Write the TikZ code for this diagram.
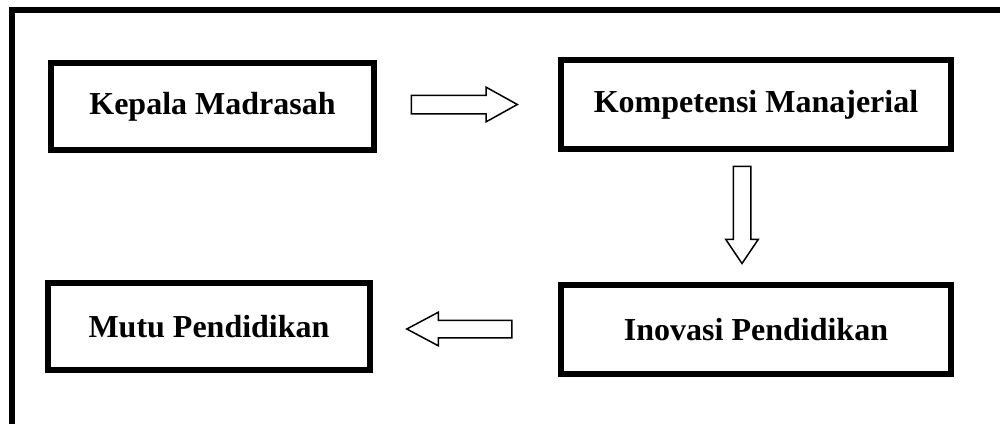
\documentclass[tikz,border=0pt]{standalone}
\usepackage{fontspec}
\setmainfont{Liberation Serif}
\usetikzlibrary{shapes.arrows}
\begin{document}
\begin{tikzpicture}[x=1pt,y=-1pt,
  stagebox/.style={draw, line width=6pt, rectangle, inner sep=0pt,
    font=\fontsize{32}{38}\selectfont\bfseries},
  blockarrow/.style={draw, line width=1.5pt, single arrow,
    single arrow head indent=0pt, anchor=center}
]
\useasboundingbox (0,0) rectangle (1000,423);
% open frame: left and top sides only
\draw[line width=6pt] (12,430) -- (12,10) -- (1010,10);

\node[stagebox, minimum width=323pt, minimum height=87pt] (kepala) at (212.5,106.5) {Kepala Madrasah};
\node[stagebox, minimum width=390pt, minimum height=89pt] (kompetensi) at (756,104.5) {Kompetensi Manajerial};
\node[stagebox, minimum width=322pt, minimum height=87pt] (mutu) at (209,326.5) {Mutu Pendidikan};
\node[stagebox, minimum width=390pt, minimum height=89pt] (inovasi) at (756,329.5) {Inovasi Pendidikan};

\node[blockarrow, inner xsep=0pt, inner ysep=8.5pt, single arrow head extend=8pt,
  single arrow tip angle=58, minimum height=106pt] (a1) at (456,104.5) {};
\node[blockarrow, inner xsep=8pt, inner ysep=0pt, single arrow head extend=7.5pt,
  single arrow tip angle=68, minimum height=97pt, shape border rotate=270] (a2) at (742,208.5) {};
\node[blockarrow, inner xsep=0pt, inner ysep=8pt, single arrow head extend=8pt,
  single arrow tip angle=56, minimum height=105pt, shape border rotate=180] (a3) at (467.5,329) {};
\end{tikzpicture}
\end{document}
